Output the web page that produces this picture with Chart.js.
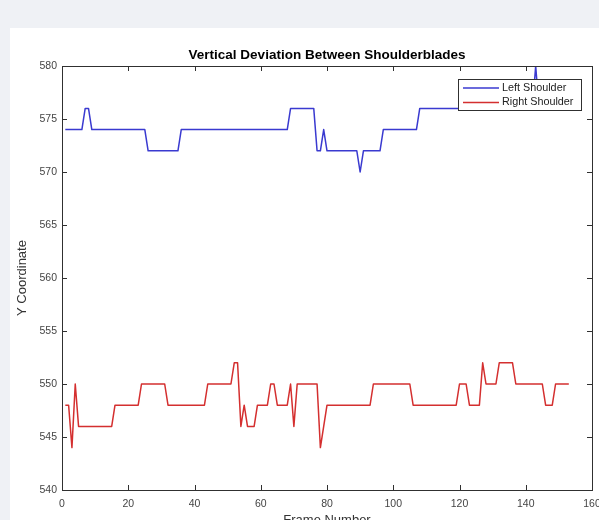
<!DOCTYPE html>
<html>
<head>
<meta charset="utf-8">
<title>Vertical Deviation Between Shoulderblades</title>
<script src="https://cdn.jsdelivr.net/npm/chart.js@4.4.1/dist/chart.umd.min.js"></script>
<style>
  html, body { margin: 0; padding: 0; overflow: hidden; background: #eff1f5; }
  #sheet { position: absolute; left: 10px; top: 28px; width: 640px; height: 540px; background: #fff; }
  #plot { position: absolute; left: 0; top: 0; }
</style>
</head>
<body>
<div id="sheet"></div>
<canvas id="plot" width="620" height="532"></canvas>
<script>
// y pixel of each shoulder, one value per video frame (frame 1 .. 153)
const leftShoulder = [
  574, 574, 574, 574, 574, 574, 576, 576, 574, 574,
  574, 574, 574, 574, 574, 574, 574, 574, 574, 574,
  574, 574, 574, 574, 574, 572, 572, 572, 572, 572,
  572, 572, 572, 572, 572, 574, 574, 574, 574, 574,
  574, 574, 574, 574, 574, 574, 574, 574, 574, 574,
  574, 574, 574, 574, 574, 574, 574, 574, 574, 574,
  574, 574, 574, 574, 574, 574, 574, 574, 576, 576,
  576, 576, 576, 576, 576, 576, 572, 572, 574, 572,
  572, 572, 572, 572, 572, 572, 572, 572, 572, 570,
  572, 572, 572, 572, 572, 572, 574, 574, 574, 574,
  574, 574, 574, 574, 574, 574, 574, 576, 576, 576,
  576, 576, 576, 576, 576, 576, 576, 576, 576, 576,
  576, 576, 576, 576, 576, 576, 576, 576, 576, 576,
  576, 576, 576, 576, 576, 576, 576, 576, 576, 576,
  576, 576, 580, 576, 576, 576, 576, 576, 576, 576,
  576, 576, 576
];
const rightShoulder = [
  548, 548, 544, 550, 546, 546, 546, 546, 546, 546,
  546, 546, 546, 546, 546, 548, 548, 548, 548, 548,
  548, 548, 548, 550, 550, 550, 550, 550, 550, 550,
  550, 548, 548, 548, 548, 548, 548, 548, 548, 548,
  548, 548, 548, 550, 550, 550, 550, 550, 550, 550,
  550, 552, 552, 546, 548, 546, 546, 546, 548, 548,
  548, 548, 550, 550, 548, 548, 548, 548, 550, 546,
  550, 550, 550, 550, 550, 550, 550, 544, 546, 548,
  548, 548, 548, 548, 548, 548, 548, 548, 548, 548,
  548, 548, 548, 550, 550, 550, 550, 550, 550, 550,
  550, 550, 550, 550, 550, 548, 548, 548, 548, 548,
  548, 548, 548, 548, 548, 548, 548, 548, 548, 550,
  550, 550, 548, 548, 548, 548, 552, 550, 550, 550,
  550, 552, 552, 552, 552, 552, 550, 550, 550, 550,
  550, 550, 550, 550, 550, 548, 548, 548, 550, 550,
  550, 550, 550
];
const frameTicks = [0, 20, 40, 60, 80, 100, 120, 140, 160];
const coordTicks = [540, 545, 550, 555, 560, 565, 570, 575, 580];
const chartTitle = 'Vertical Deviation Between Shoulderblades';

const frames = leftShoulder.map((_, i) => i + 1);
const toPoints = vals => vals.map((v, i) => ({ x: frames[i], y: v }));

const fontFamily = "'Liberation Sans', Arial, sans-serif";
const tickFont = { family: fontFamily, size: 10.5 };
const axisTitleFont = { family: fontFamily, size: 13 };

// matlab style box: frame round the plot area, inward ticks on all four sides,
// title centred over the axes and a legend in the upper right corner
const axesBox = {
  id: 'axesBox',
  afterDatasetsDraw(chart) {
    const { ctx, chartArea: a, scales: { x, y } } = chart;
    const len = 5;
    ctx.save();
    ctx.strokeStyle = '#303030';
    ctx.lineWidth = 1;
    ctx.strokeRect(Math.round(a.left) + 0.5, Math.round(a.top) + 0.5,
      Math.round(a.right - a.left), Math.round(a.bottom - a.top));
    ctx.beginPath();
    x.ticks.forEach(t => {
      const px = Math.round(x.getPixelForValue(t.value)) + 0.5;
      ctx.moveTo(px, a.bottom); ctx.lineTo(px, a.bottom - len);
      ctx.moveTo(px, a.top); ctx.lineTo(px, a.top + len);
    });
    y.ticks.forEach(t => {
      const py = Math.round(y.getPixelForValue(t.value)) + 0.5;
      ctx.moveTo(a.left, py); ctx.lineTo(a.left + len, py);
      ctx.moveTo(a.right, py); ctx.lineTo(a.right - len, py);
    });
    ctx.stroke();
    ctx.restore();
  },
  afterDraw(chart) {
    const { ctx, chartArea: a } = chart;
    ctx.save();
    ctx.fillStyle = '#000';
    ctx.font = 'bold 13.5px ' + fontFamily;
    ctx.textAlign = 'center';
    ctx.textBaseline = 'middle';
    ctx.fillText(chartTitle, (a.left + a.right) / 2, a.top - 11);

    const w = 123, h = 31;
    const bx = a.right - 11 - w, by = a.top + 13;
    ctx.fillStyle = '#fff';
    ctx.fillRect(bx, by, w, h);
    ctx.strokeStyle = '#303030';
    ctx.lineWidth = 1;
    ctx.strokeRect(Math.round(bx) + 0.5, Math.round(by) + 0.5, w, h);
    ctx.font = '10.8px ' + fontFamily;
    ctx.textAlign = 'left';
    chart.data.datasets.forEach((ds, i) => {
      const ly = by + 9 + i * 14.5;
      ctx.strokeStyle = ds.borderColor;
      ctx.lineWidth = 1.3;
      ctx.beginPath();
      ctx.moveTo(bx + 5, ly);
      ctx.lineTo(bx + 41, ly);
      ctx.stroke();
      ctx.fillStyle = '#222';
      ctx.fillText(ds.label, bx + 44, ly);
    });
    ctx.restore();
  }
};

new Chart(document.getElementById('plot'), {
  type: 'line',
  data: {
    datasets: [{
      label: 'Left Shoulder',
      data: toPoints(leftShoulder),
      borderColor: '#3a3ad0',
      borderWidth: 1.5,
      borderJoinStyle: 'round',
      pointRadius: 0,
      tension: 0
    }, {
      label: 'Right Shoulder',
      data: toPoints(rightShoulder),
      borderColor: '#d42f2f',
      borderWidth: 1.5,
      borderJoinStyle: 'round',
      pointRadius: 0,
      tension: 0
    }]
  },
  options: {
    responsive: false,
    animation: false,
    devicePixelRatio: 1,
    layout: { padding: { left: 0, right: 28, top: 66, bottom: 0 } },
    plugins: {
      legend: { display: false },
      tooltip: { enabled: false },
      title: { display: false }
    },
    scales: {
      x: {
        type: 'linear',
        min: 0,
        max: 160,
        afterBuildTicks: s => { s.ticks = frameTicks.map(v => ({ value: v })); },
        afterFit: s => { s.height = 42; },
        grid: { display: false, drawTicks: false },
        border: { display: false },
        ticks: { color: '#444', font: tickFont, padding: 8, maxRotation: 0 },
        title: { display: true, text: 'Frame Number', color: '#333', font: axisTitleFont, padding: { top: 0, bottom: 4 } }
      },
      y: {
        min: 540,
        max: 580,
        afterBuildTicks: s => { s.ticks = coordTicks.map(v => ({ value: v })); },
        afterFit: s => { s.width = 62; },
        grid: { display: false, drawTicks: false },
        border: { display: false },
        ticks: { color: '#444', font: tickFont, padding: 5 },
        title: { display: true, text: 'Y Coordinate', color: '#333', font: axisTitleFont, padding: { top: 14.5, bottom: 0 } }
      }
    }
  },
  plugins: [axesBox]
});
</script>
</body>
</html>
